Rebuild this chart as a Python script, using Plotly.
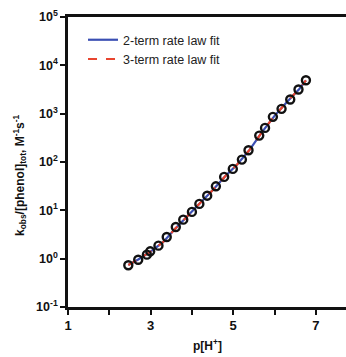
import plotly.graph_objects as go

# Data
pH = [2.46, 2.70, 2.91, 2.99, 3.19, 3.39, 3.61, 3.79, 4.00, 4.18, 4.37, 4.58,
      4.78, 4.99, 5.21, 5.37, 5.63, 5.77, 5.96, 6.17, 6.38, 6.58, 6.76]
k_norm = [0.73, 0.95, 1.21, 1.42, 1.86, 2.81, 4.53, 6.42, 9.27, 13.6, 20.1, 31.4,
          49.2, 71.9, 112, 175, 352, 508, 859, 1257, 1959, 3155, 4918]

fit_x = [2.46, 2.70, 3.00, 3.30, 3.60, 3.90, 4.20, 4.50, 4.80, 5.10, 5.40, 5.70,
         6.00, 6.30, 6.60, 6.76]
fit2_y = [0.74, 0.96, 1.40, 2.20, 4.20, 7.9, 14.2, 26.0, 50.0, 90.0, 180, 420,
          900, 1750, 3250, 4900]
fit3_y = [0.74, 0.96, 1.40, 2.20, 4.20, 7.9, 14.2, 26.0, 50.0, 90.0, 180, 420,
          900, 1750, 3250, 4900]

y_tickvals = [0.1, 1, 10, 100, 1000, 10000, 100000]
y_ticktext = ["10<sup>-1</sup>", "10<sup>0</sup>", "10<sup>1</sup>", "10<sup>2</sup>",
              "10<sup>3</sup>", "10<sup>4</sup>", "10<sup>5</sup>"]
x_tickvals = [1, 2, 3, 4, 5, 6, 7]
x_ticktext = ["1", "", "3", "", "5", "", "7"]

FONT = "Liberation Sans, Arial, sans-serif"
BLUE = "#3b4fb3"
RED = "#e8452f"

fig = go.Figure()
fig.add_trace(go.Scatter(x=fit_x, y=fit2_y, mode="lines", name="2-term rate law fit",
                         line=dict(color=BLUE, width=2.2)))
fig.add_trace(go.Scatter(x=fit_x, y=fit3_y, mode="lines", name="3-term rate law fit",
                         line=dict(color=RED, width=2.2, dash="dash")))
fig.add_trace(go.Scatter(x=pH, y=k_norm, mode="markers", showlegend=False,
                         marker=dict(symbol="circle-open", size=8, color="#111111",
                                     line=dict(width=2.4, color="#111111"))))

fig.update_layout(
    width=346, height=357,
    margin=dict(l=68, r=0, t=17, b=50),
    paper_bgcolor="white", plot_bgcolor="white",
    font=dict(family=FONT, color="#111111"),
    legend=dict(x=0.054, y=0.972, xanchor="left", yanchor="top",
                bgcolor="rgba(0,0,0,0)", font=dict(size=12.5, family=FONT, color="#222222"),
                tracegroupgap=0, itemwidth=30),
    xaxis=dict(range=[1, 7.73], tickvals=x_tickvals, ticktext=x_ticktext,
               showgrid=False, zeroline=False, showline=True, linecolor="#111111",
               linewidth=2.5, mirror=True, ticks="outside", ticklen=5, tickwidth=2,
               tickcolor="#111111",
               tickfont=dict(size=13, family=FONT, weight="bold", color="#111111")),
    yaxis=dict(type="log", range=[-1, 5], tickvals=y_tickvals, ticktext=y_ticktext,
               showgrid=False, zeroline=False, showline=True, linecolor="#111111",
               linewidth=2.5, ticks="outside", ticklen=5, tickwidth=2, tickcolor="#111111",
               tickfont=dict(size=12.5, family=FONT, weight="bold", color="#111111")),
    annotations=[
        dict(text="p[H<sup>+</sup>]", xref="paper", yref="paper", x=0.5, y=-0.131,
             xanchor="center", yanchor="middle", showarrow=False,
             font=dict(size=12, family=FONT, weight="bold", color="#111111")),
        dict(text="k<sub>obs</sub>/[phenol]<sub>tot</sub>, M<sup>-1</sup>s<sup>-1</sup>",
             xref="paper", yref="paper", x=-0.173, y=0.455, textangle=-90,
             xanchor="center", yanchor="middle", showarrow=False,
             font=dict(size=12, family=FONT, weight="bold", color="#111111")),
    ],
)

fig.write_html("out.html")
